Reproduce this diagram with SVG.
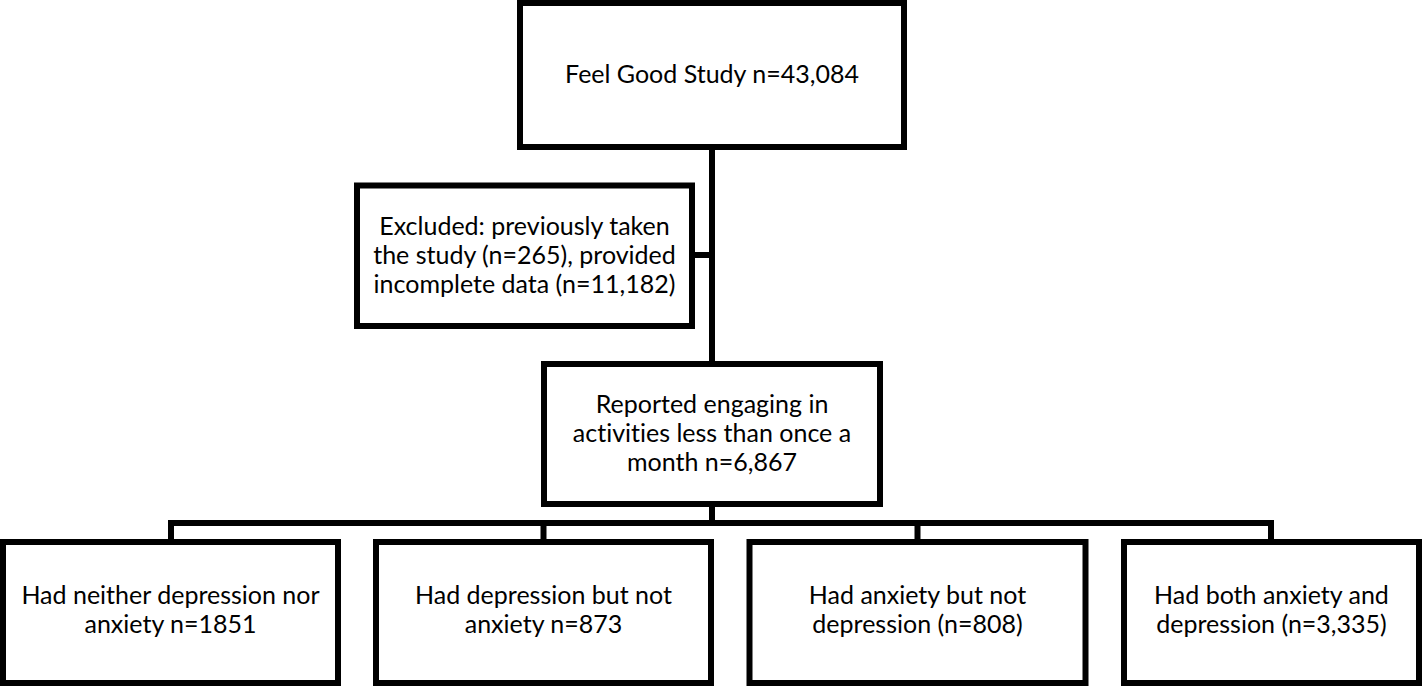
<svg xmlns="http://www.w3.org/2000/svg" width="1423" height="686" viewBox="0 0 1423 686">
<style>
.box{fill:#fff;stroke:#000;stroke-width:6}
.conn{fill:none;stroke:#000;stroke-width:6;stroke-linejoin:miter}
text{font-family:Lato,"Liberation Sans",sans-serif;font-size:25px;fill:#000;text-anchor:middle;font-variant-ligatures:none}
</style>
<rect width="1423" height="686" fill="#fff"/>
<g id="connectors">
<path class="conn" d="M712,147 V364"/>
<path class="conn" d="M692,255 H712"/>
<path class="conn" d="M712,504 V523"/>
<path class="conn" d="M171,542 V523 H1271 V542"/>
<path class="conn" d="M543.5,523 V542"/>
<path class="conn" d="M917.5,523 V542"/>
</g>
<g id="node-feel-good">
<rect class="box" x="520" y="3" width="384" height="144"/>
<text x="712" y="83">Feel Good Study n=43,084</text>
</g>
<g id="node-excluded">
<rect class="box" x="357" y="185.5" width="335" height="140.5"/>
<text x="524.5" y="235">Excluded: previously taken</text>
<text x="524.5" y="264">the study (n=265), provided</text>
<text x="524.5" y="293">incomplete data (n=11,182)</text>
</g>
<g id="node-reported">
<rect class="box" x="544" y="364" width="336" height="140"/>
<text x="712" y="413">Reported engaging in</text>
<text x="712" y="442">activities less than once a</text>
<text x="712" y="471">month n=6,867</text>
</g>
<g id="node-neither">
<rect class="box" x="3" y="542" width="335" height="141"/>
<text x="170.5" y="604">Had neither depression nor</text>
<text x="170.5" y="633">anxiety n=1851</text>
</g>
<g id="node-depression">
<rect class="box" x="376" y="542" width="335" height="141"/>
<text x="543.5" y="604">Had depression but not</text>
<text x="543.5" y="633">anxiety n=873</text>
</g>
<g id="node-anxiety">
<rect class="box" x="749.5" y="542" width="336" height="141"/>
<text x="917.5" y="604">Had anxiety but not</text>
<text x="917.5" y="633">depression (n=808)</text>
</g>
<g id="node-both">
<rect class="box" x="1124" y="542" width="295" height="141"/>
<text x="1271.5" y="604">Had both anxiety and</text>
<text x="1271.5" y="633">depression (n=3,335)</text>
</g>
</svg>
